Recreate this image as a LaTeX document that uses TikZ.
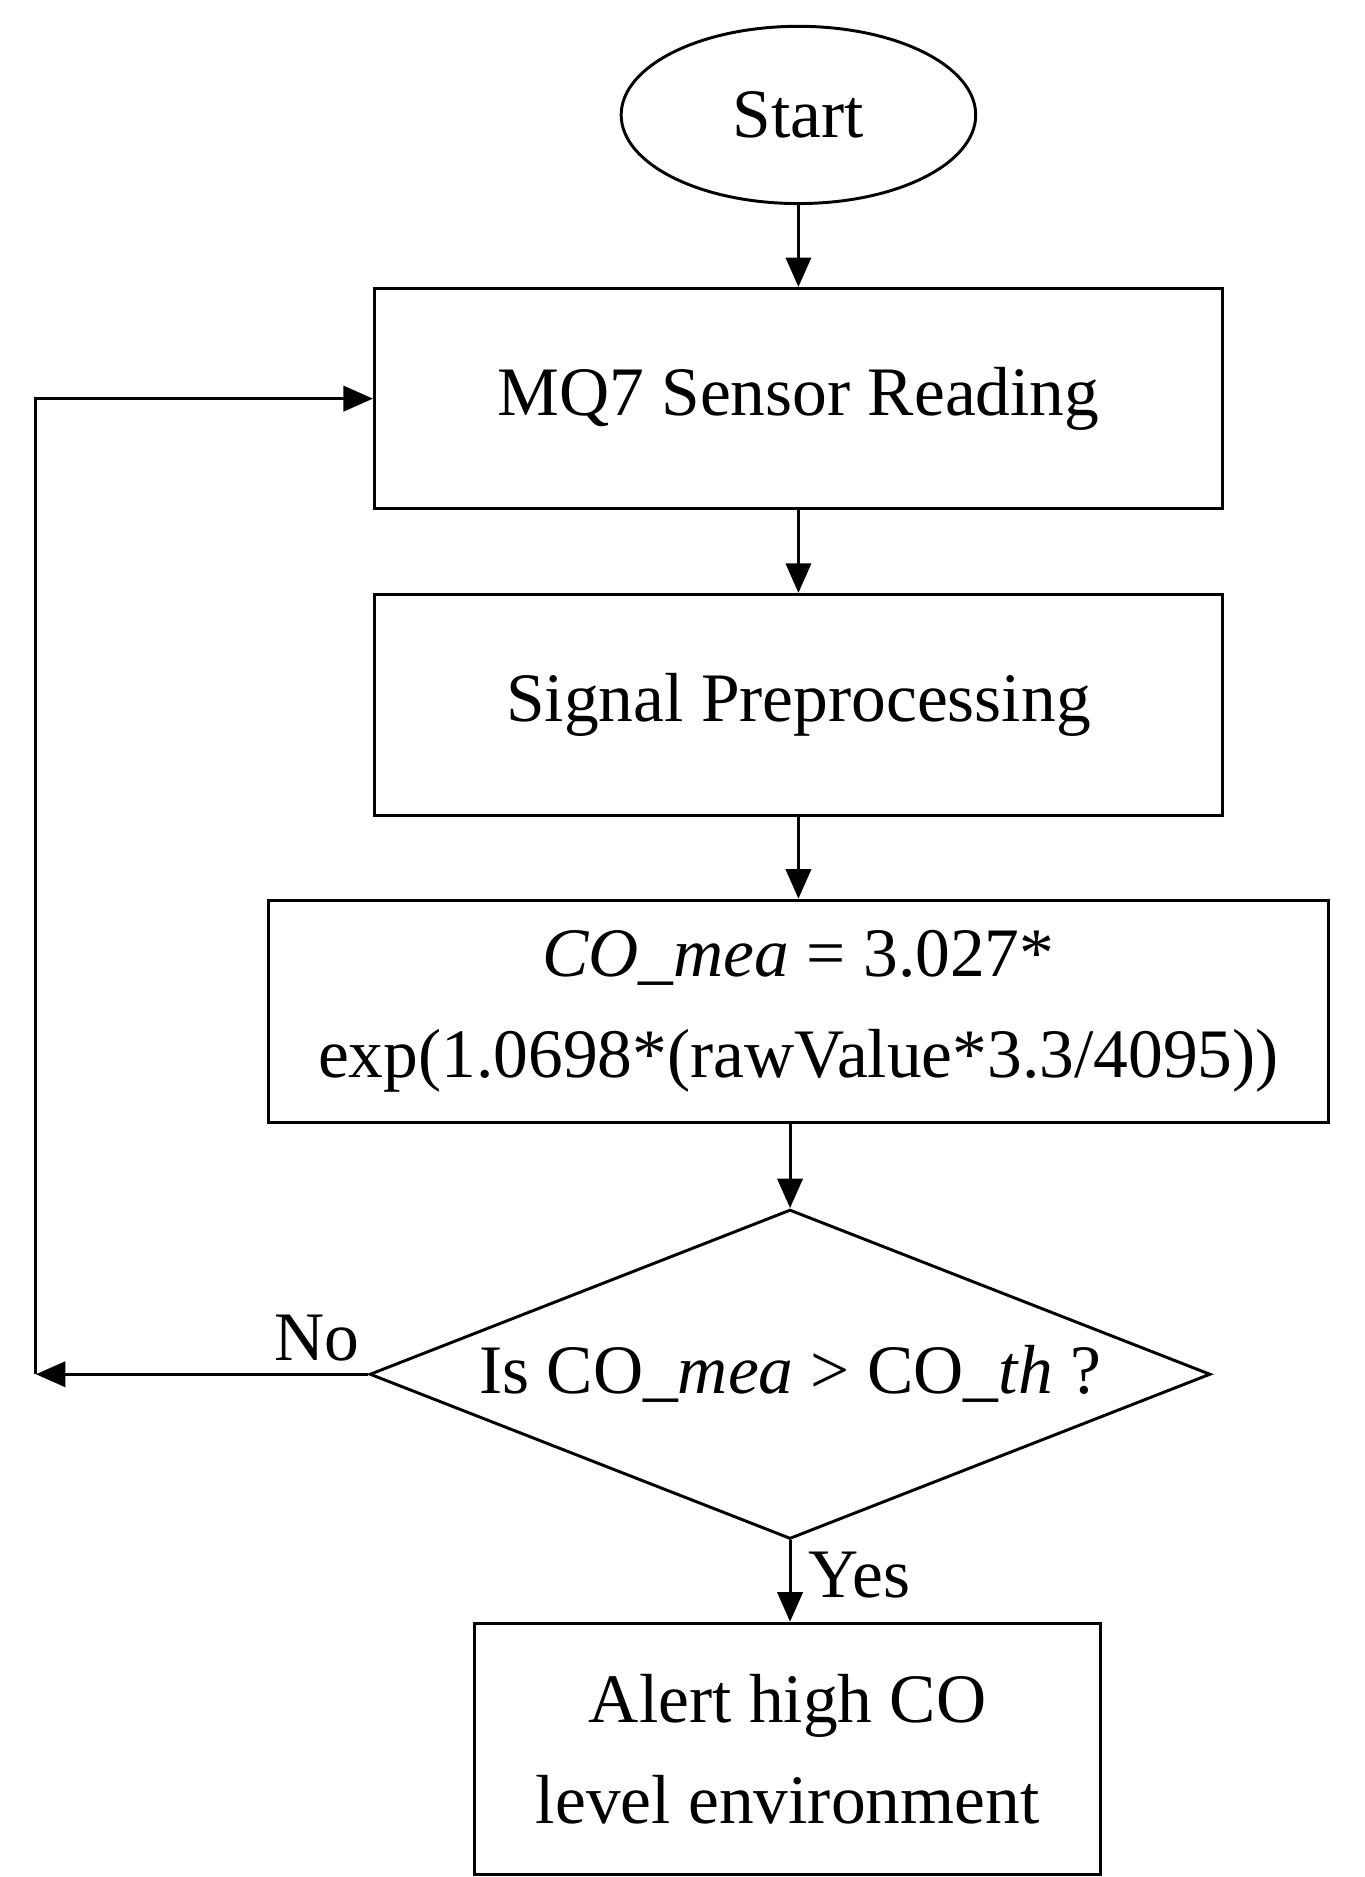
\documentclass[tikz,border=0pt]{standalone}
\usepackage{fontspec}
\setmainfont{Liberation Serif}
\usetikzlibrary{shapes.geometric,arrows.meta}
\begin{document}
\begin{tikzpicture}[x=0.01cm,y=-0.01cm,
  every node/.style={font=\fontsize{16.5}{20}\selectfont},
  box/.style={draw,line width=0.7pt,inner sep=0pt,align=center},
  arr/.style={line width=0.7pt,-{Triangle[length=7pt,width=6pt]}}]
\useasboundingbox (0,0) rectangle (1140,1568);
\node[box,ellipse,minimum width=2.96cm,minimum height=1.48cm] (start) at (667,96) {Start};
\node[box,minimum width=7.08cm,minimum height=1.84cm] (b1) at (667,333) {MQ7 Sensor Reading};
\node[box,minimum width=7.08cm,minimum height=1.85cm] (b2) at (667,589) {Signal Preprocessing};
\node[box,minimum width=8.85cm,minimum height=1.86cm,font=\fontsize{16.5}{24}\selectfont] (b3) at (667,845) {\textit{CO\_mea} = 3.027*\\ exp(1.0698*(rawValue*3.3/4095))};
\node[box,diamond,aspect=2.55,minimum width=7.02cm,minimum height=2.75cm,inner sep=0pt] (d) at (660,1148) {Is CO\_\textit{mea} > CO\_\textit{th} ?};
\node[box,minimum width=5.23cm,minimum height=2.1cm,font=\fontsize{16.5}{24}\selectfont] (b4) at (658,1461) {Alert high CO\\level environment};
\coordinate (l1) at (30,1148);
\coordinate (l2) at (30,333);
\draw[arr] (start) -- (b1);
\draw[arr] (b1) -- (b2);
\draw[arr] (b2) -- (b3);
\draw[arr] (b3.south -| d.north) -- (d.north);
\draw[arr] (d.south) -- (b4.north -| d.south);
\draw[arr] (d.west) -- (l1);
\draw[arr] (l1) -- (l2) -- (b1.west);
\node at (265,1118) {No};
\node at (718,1316) {Yes};
\end{tikzpicture}
\end{document}
